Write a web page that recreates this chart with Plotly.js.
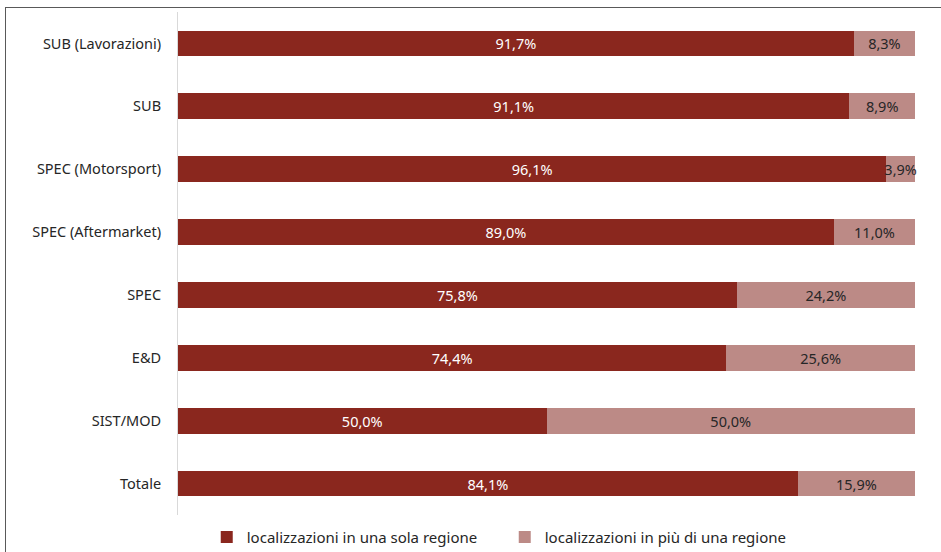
<!DOCTYPE html>
<html>
<head>
<meta charset="utf-8">
<script src="https://cdn.plot.ly/plotly-3.0.1.min.js"></script>
<style>
html,body{margin:0;padding:0;background:#fff;}
#wrap{position:relative;width:941px;height:552px;overflow:hidden;}
#frame{position:absolute;left:5px;top:7px;width:960px;height:600px;border-left:1.5px solid #595959;border-top:1.5px solid #595959;pointer-events:none;}
#chart{position:absolute;left:0;top:0;width:941px;height:552px;}
</style>
</head>
<body>
<div id="wrap">
<div id="chart"></div>
<div id="frame"></div>
</div>
<script>
const categories = ["SUB (Lavorazioni)", "SUB", "SPEC (Motorsport)", "SPEC (Aftermarket)", "SPEC", "E&D", "SIST/MOD", "Totale"];
const singleRegion = [91.7, 91.1, 96.1, 89.0, 75.8, 74.4, 50.0, 84.1];
const multiRegion = [8.3, 8.9, 3.9, 11.0, 24.2, 25.6, 50.0, 15.9];
const seriesNames = ["localizzazioni in una sola regione", "localizzazioni in più di una regione"];

const fmt = v => v.toFixed(1).replace('.', ',') + '%';
const FONT = "Noto Sans, Open Sans, sans-serif";

const traces = [
  {
    type: 'bar', orientation: 'h', name: seriesNames[0],
    y: categories, x: singleRegion,
    text: singleRegion.map(fmt), textposition: 'inside', insidetextanchor: 'middle',
    constraintext: 'none', cliponaxis: false,
    textfont: {family: FONT, size: 14.5, color: '#ffffff'},
    marker: {color: '#8A271E', line: {width: 0}},
    hoverinfo: 'skip'
  },
  {
    type: 'bar', orientation: 'h', name: seriesNames[1],
    y: categories, x: multiRegion,
    text: multiRegion.map(fmt), textposition: 'inside', insidetextanchor: 'middle',
    constraintext: 'none', cliponaxis: false,
    textfont: {family: FONT, size: 14.5, color: '#262626'},
    marker: {color: '#BC8A86', line: {width: 0}},
    hoverinfo: 'skip'
  }
];

const layout = {
  width: 941, height: 552,
  margin: {l: 178, r: 26, t: 12, b: 37, pad: 0, autoexpand: false},
  barmode: 'stack',
  bargap: 0.59,
  paper_bgcolor: '#ffffff', plot_bgcolor: '#ffffff',
  font: {family: FONT, size: 14.5, color: '#262626'},
  showlegend: true,
  legend: {
    orientation: 'h', x: 0.039, xanchor: 'left', y: -0.044, yanchor: 'middle',
    font: {family: FONT, size: 15, color: '#262626'},
    traceorder: 'normal', entrywidth: 253, entrywidthmode: 'pixels',
    itemwidth: 30, bgcolor: 'rgba(0,0,0,0)'
  },
  xaxis: {
    range: [0, 100], visible: false, fixedrange: true
  },
  yaxis: {
    type: 'category', autorange: 'reversed',
    showline: true, linecolor: '#d9d9d9', linewidth: 1,
    showgrid: false, zeroline: false, ticks: '',
    ticklabelstandoff: 13,
    tickfont: {family: FONT, size: 14.5, color: '#262626'},
    fixedrange: true
  }
};

Plotly.newPlot('chart', traces, layout, {displayModeBar: false, staticPlot: true});
</script>
</body>
</html>
